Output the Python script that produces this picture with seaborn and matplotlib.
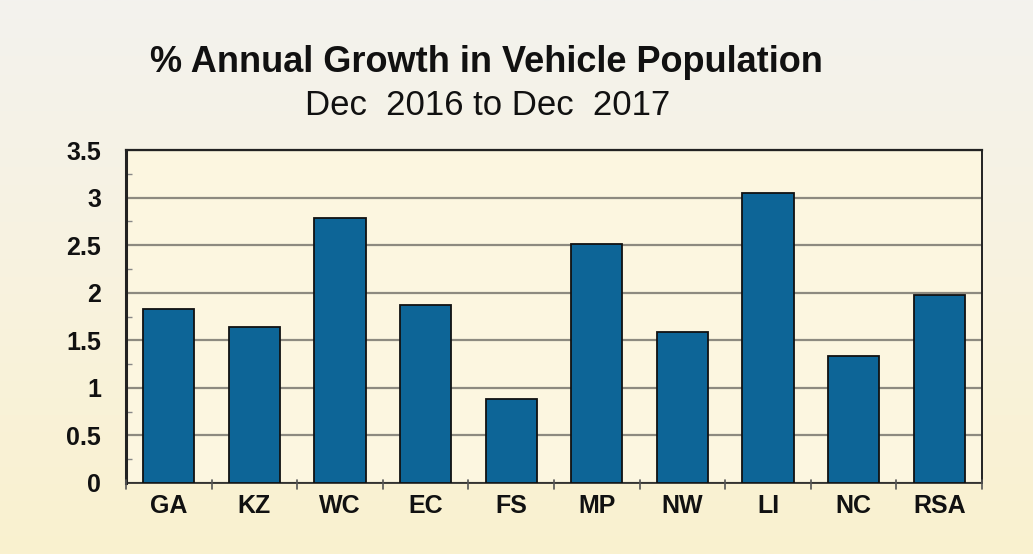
import numpy as np
import pandas as pd
import matplotlib
matplotlib.use('Agg')
import matplotlib.pyplot as plt
import seaborn as sns

regions = ['GA', 'KZ', 'WC', 'EC', 'FS', 'MP', 'NW', 'LI', 'NC', 'RSA']
growth = [1.83, 1.64, 2.79, 1.87, 0.88, 2.51, 1.59, 3.05, 1.33, 1.98]
yticks = [0, 0.5, 1, 1.5, 2, 2.5, 3, 3.5]
ytick_labels = ['0', '0.5', '1', '1.5', '2', '2.5', '3', '3.5']

df = pd.DataFrame({'region': regions, 'growth': growth})

sns.set_theme(style='white')
plt.rcParams['font.family'] = ['Liberation Sans', 'DejaVu Sans']

fig = plt.figure(figsize=(10.33, 5.54), dpi=100)
fig.patch.set_facecolor('#f8f3dc')

# soft gradient background like the scanned slide (grey-white top, cream bottom)
bg = fig.add_axes([0, 0, 1, 1], zorder=-10)
grad = np.linspace(0, 1, 256).reshape(-1, 1)
bg.imshow(grad, aspect='auto', extent=[0, 1, 0, 1],
          cmap=matplotlib.colors.LinearSegmentedColormap.from_list(
              'bg', ['#f3f2ee', '#f8f3df', '#faf1cf']))
bg.axis('off')

ax = fig.add_axes([126 / 1033, 1 - 483 / 554, (982 - 126) / 1033, (483 - 150) / 554])
ax.set_facecolor('#fcf6e0')

sns.barplot(data=df, x='region', y='growth', color='#0d6597', width=0.6,
            edgecolor='#111111', linewidth=1.3, saturation=1, ax=ax, zorder=3)

ax.set_ylim(0, 3.5)
ax.set_xlim(-0.5, len(regions) - 0.5)
ax.set_yticks(yticks)
ax.set_yticklabels(ytick_labels)
ax.set_yticks(np.arange(0.25, 3.5, 0.5), minor=True)
ax.yaxis.grid(True, which='major', color='#8d8a80', linewidth=1.6, zorder=0)
ax.set_axisbelow(True)

ax.set_xticks(range(len(regions)))
ax.set_xticklabels(regions)
ax.tick_params(axis='x', length=0, pad=8, labelsize=18)
ax.tick_params(axis='y', which='major', length=10, direction='out', color='#666666',
               width=1.3, pad=8, labelsize=18)
ax.tick_params(axis='y', which='minor', length=4, direction='in', color='#888888',
               width=1, left=True)
for lbl in ax.get_xticklabels() + ax.get_yticklabels():
    lbl.set_fontweight('bold')
    lbl.set_color('#111111')

# separator ticks between categories
for b in np.arange(-0.5, len(regions), 1.0):
    ax.plot([b, b], [-0.06, 0.03], color='#555555', lw=1.2, clip_on=False, zorder=4)

ax.set_xlabel('')
ax.set_ylabel('')
for side in ['left', 'bottom', 'top', 'right']:
    ax.spines[side].set_visible(True)
    ax.spines[side].set_color('#222222')
ax.spines['left'].set_linewidth(2.2)
ax.spines['bottom'].set_linewidth(1.2)
ax.spines['top'].set_linewidth(1.6)
ax.spines['right'].set_linewidth(1.4)

fig.text(0.471, 0.888, '% Annual Growth in Vehicle Population', ha='center',
         va='center', fontsize=26, fontweight='bold', color='#111111')
fig.text(0.472, 0.81, 'Dec  2016 to Dec  2017', ha='center', va='center',
         fontsize=25, color='#111111')

fig.savefig('out.png', dpi=100, facecolor=fig.get_facecolor())
